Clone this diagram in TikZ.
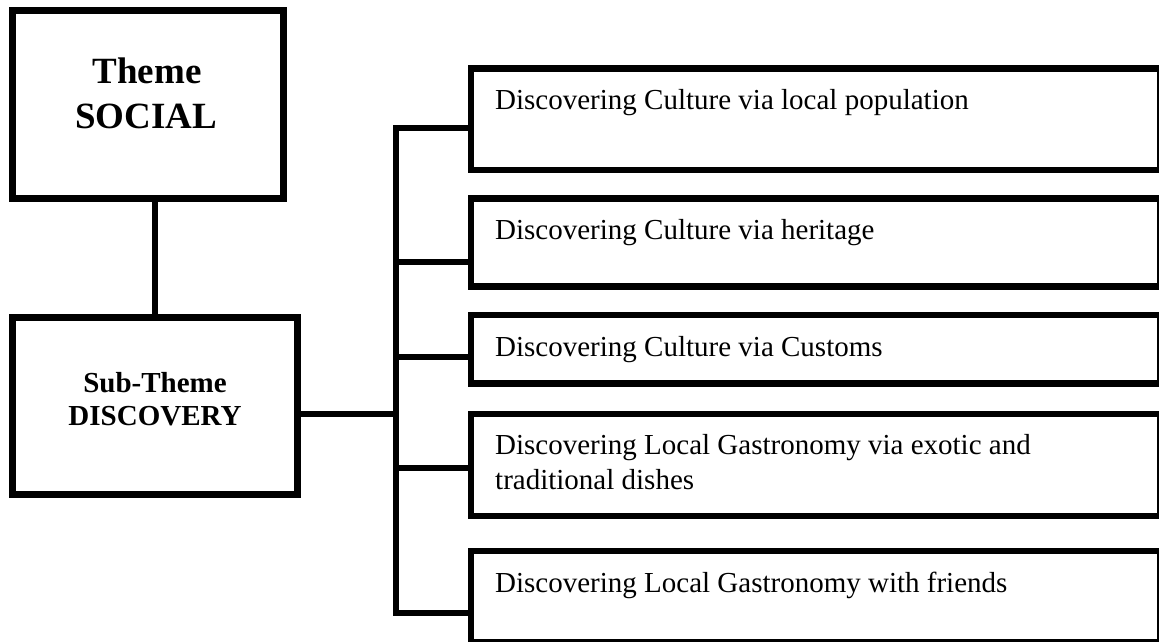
\documentclass[tikz,border=0pt]{standalone}
\usepackage{fontspec}
\setmainfont{Liberation Serif}
\begin{document}
\begin{tikzpicture}[x=1pt,y=-1pt,
  box/.style={draw=black, line width=6.5pt, rectangle, inner sep=0pt, outer sep=0pt, anchor=north west},
  conn/.style={draw=black, line width=6.5pt, line join=miter},
  lbl/.style={anchor=base west, inner sep=0pt, font=\fontsize{29}{35}\selectfont},
  bigtitle/.style={anchor=base, inner sep=0pt, font=\fontsize{37}{44}\selectfont\bfseries},
  subtitle/.style={anchor=base, inner sep=0pt, font=\fontsize{29}{33}\selectfont\bfseries}]
\useasboundingbox[fill=white] (0,0) rectangle (1159,642);
% left boxes
\node[box, minimum width=271pt, minimum height=188pt] (theme) at (12.5,10.5) {};
\node[box, minimum width=285pt, minimum height=177pt] (sub) at (12.5,317.5) {};
\node[bigtitle] (th1) at (147,83) {Theme};
\node[bigtitle] (th2) at (146,128) {SOCIAL};
\node[subtitle] (st1) at (155,392) {Sub-Theme};
\node[subtitle] (st2) at (155,425) {DISCOVERY};
% right boxes
\node[box, minimum width=689pt, minimum height=101.5pt] (r1) at (471,68.5) {};
\node[box, minimum width=689pt, minimum height=88pt] (r2) at (471,198.5) {};
\node[box, minimum width=689pt, minimum height=68.5pt] (r3) at (471,315) {};
\node[box, minimum width=689pt, minimum height=102pt] (r4) at (471,414) {};
\node[box, minimum width=689pt, minimum height=91.5pt] (r5) at (471,551) {};
\node[lbl] (t1) at (495,109.5) {Discovering Culture via local population};
\node[lbl] (t2) at (495,239.5) {Discovering Culture via heritage};
\node[lbl] (t3) at (495,356) {Discovering Culture via Customs};
\node[lbl] (t4a) at (495,454) {Discovering Local Gastronomy via exotic and};
\node[lbl] (t4b) at (495,489) {traditional dishes};
\node[lbl] (t5) at (495,592) {Discovering Local Gastronomy with friends};
% connectors
\coordinate (j) at (396,414);
\coordinate (b1) at (396,128);
\coordinate (b2) at (396,262);
\coordinate (b3) at (396,357);
\coordinate (b4) at (396,468);
\coordinate (b5) at (396,613);
\draw[conn] (sub.north |- theme.south) -- (sub.north);
\draw[conn] (sub.east |- j) -- (j);
\draw[conn] (b1 -| r1.west) -- (b1) -- (b5) -- (b5 -| r5.west);
\draw[conn] (b2) -- (b2 -| r2.west);
\draw[conn] (b3) -- (b3 -| r3.west);
\draw[conn] (b4) -- (b4 -| r4.west);
\end{tikzpicture}
\end{document}
